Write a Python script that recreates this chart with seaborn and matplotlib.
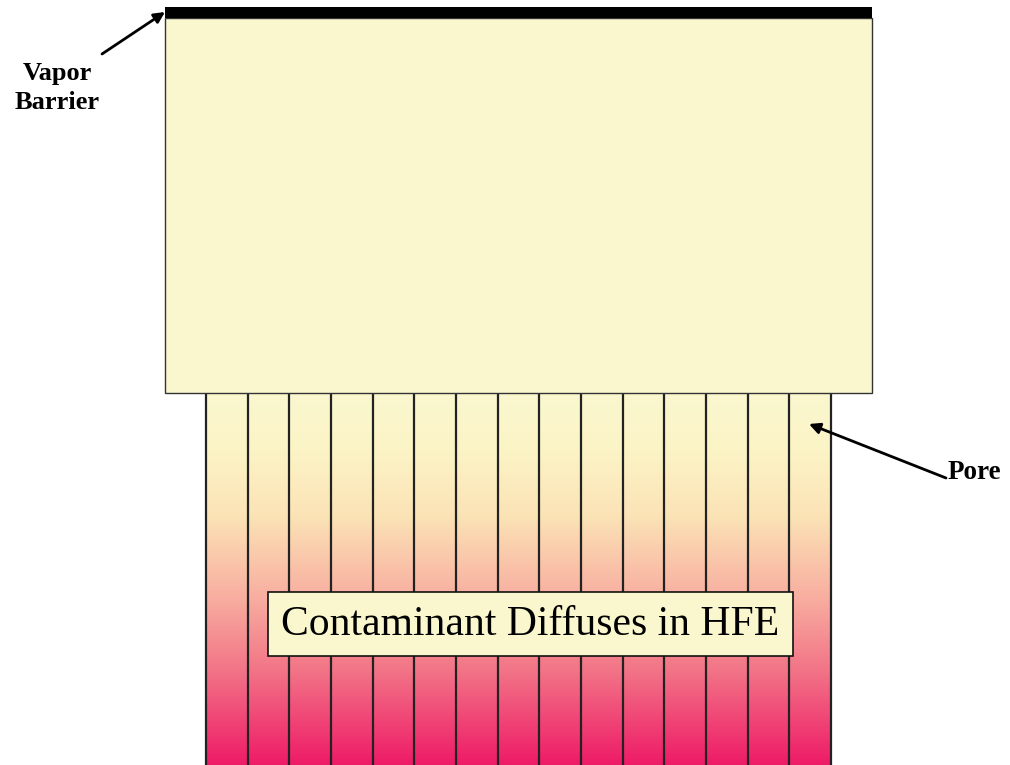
import numpy as np
import matplotlib
matplotlib.use("Agg")
import matplotlib.pyplot as plt
from matplotlib.patches import Rectangle
from matplotlib.colors import LinearSegmentedColormap
import seaborn as sns

# ==============================
# DATA
# ==============================

n_pores = 15
box_label = "Contaminant Diffuses in HFE"
barrier_label = "Vapor\nBarrier"
pore_label = "Pore"

# contaminant concentration colour along the pore (top -> bottom)
grad_pos = [0.0, 0.15, 0.33, 0.55, 0.75, 1.0]
grad_colors = ["#FAF7CF", "#FCF4C6", "#FBE3B6", "#F8AEA0", "#F27386", "#EE1B67"]

CREAM = "#FAF7CE"

# ==============================
# FIGURE
# ==============================

sns.set_style("white")
plt.rcParams["font.family"] = ["Liberation Serif", "DejaVu Serif"]
plt.rcParams["text.color"] = "black"

fig = plt.figure(figsize=(10.1, 7.65), dpi=100)
ax = fig.add_axes([0, 0, 1, 1])
ax.set_xlim(0, 1010)
ax.set_ylim(765, 0)
ax.axis("off")

# pores with concentration gradient
cmap = LinearSegmentedColormap.from_list("conc", list(zip(grad_pos, grad_colors)))
grad = np.linspace(0, 1, 256).reshape(-1, 1)
ax.imshow(grad, cmap=cmap, aspect="auto", extent=(206, 831, 765, 393),
          interpolation="bicubic", zorder=1)
edges = np.linspace(206, 831, n_pores + 1)
ax.vlines(edges, 393, 765, colors="#222222", lw=1.6, zorder=2)

# bulk block
ax.add_patch(Rectangle((165, 18), 707, 375, fc=CREAM, ec="#333333", lw=1.0, zorder=3))

# vapor barrier
ax.add_patch(Rectangle((165, 7), 707, 11, fc="black", ec="none", zorder=4))

# label box
ax.add_patch(Rectangle((268, 592), 525, 64, fc=CREAM, ec="#111111", lw=1.2, zorder=5))
ax.text(530.5, 625, box_label, fontsize=30, color="black", ha="center", va="center", zorder=6)

# annotations
ax.annotate("", xy=(165, 12), xytext=(102, 54),
            arrowprops=dict(arrowstyle="-|>", lw=2, color="black", mutation_scale=16,
                            shrinkA=0, shrinkB=0), zorder=7)
ax.text(57, 88, barrier_label, fontsize=19, fontweight="bold", color="black",
        ha="center", va="center", linespacing=1.3)

ax.annotate("", xy=(809, 424), xytext=(946, 478),
            arrowprops=dict(arrowstyle="-|>", lw=2, color="black", mutation_scale=16,
                            shrinkA=0, shrinkB=0), zorder=7)
ax.text(974, 472, pore_label, fontsize=19.5, fontweight="bold", color="black",
        ha="center", va="center")

plt.savefig("out.png", dpi=100)
plt.close()
